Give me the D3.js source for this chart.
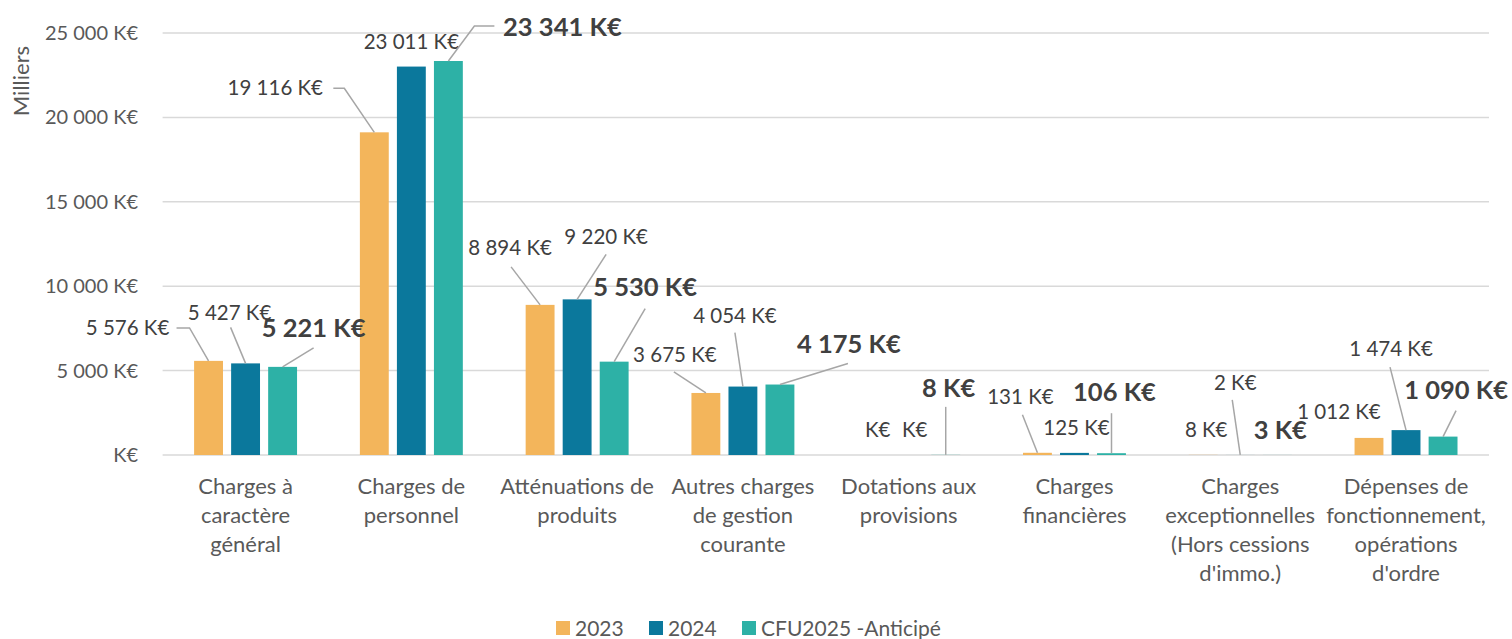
<html>
<head>
<title>Charges de fonctionnement</title>
<script src="https://d3js.org/d3.v7.min.js"></script>
<style>
body { margin: 0; background: white; }
text { font-family: Lato, "Open Sans", sans-serif; fill: #595959; }
.lbl { fill: #404040; }
</style>
</head>
<body>
<svg id="chart" width="1512" height="639"></svg>
<script>
// categories and series
var categories = [
  ["Charges à", "caractère", "général"],
  ["Charges de", "personnel"],
  ["Atténuations de", "produits"],
  ["Autres charges", "de gestion", "courante"],
  ["Dotations aux", "provisions"],
  ["Charges", "financières"],
  ["Charges", "exceptionnelles", "(Hors cessions", "d'immo.)"],
  ["Dépenses de", "fonctionnement,", "opérations", "d'ordre"]
];
var seriesNames = ["2023", "2024", "CFU2025 -Anticipé"];
var values2023 = [5576, 19116, 8894, 3675, 0, 131, 8, 1012];
var values2024 = [5427, 23011, 9220, 4054, 0, 125, 2, 1474];
var valuesCFU2025 = [5221, 23341, 5530, 4175, 8, 106, 3, 1090];
var yTicks = [0, 5000, 10000, 15000, 20000, 25000];

var colors = ["#F3B55B", "#0B789C", "#2DB1A6"];

// label placement (offset of label centre from bar top), and leader lines
var labelOffsets = [
  [[-81, -33], [-99, -44], [-30, -57], [-31, -38], [6, -25], [-17, -56], [3, -25], [-30, -26]],
  [[-16, -51], [0, -25], [29, -63], [-8, -71], [6, -25], [2, -25], [-5, -72], [-15, -81]],
  [[31, -39], [114, -34], [31, -75], [69, -40], [3, -67], [3, -61], [3, -25], [13, -47]]
];
var leaders = [
  [[[-32, -33], [-19, -33], [0, 0]], [[-41, -44], [-30, -44], [0, 0]], [[-29, -38], [0, 0]], [[-32, -21], [0, 0]], null, [[-15, -38], [0, 0]], null, null],
  [[[-15, -36], [0, 0]], null, [[29, -45], [0, 0]], [[-8, -54], [0, 0]], null, null, [[-8, -55], [0, 0]], [[-16, -63], [0, 0]]],
  [[[31, -19], [0, 0]], [[46, -35], [26, -35], [0, 0]], [[31, -53], [0, 0]], [[68, -21], [0, 0]], [[0, -48], [0, 0]], [[0, -40], [0, 0]], null, [[13, -26], [0, 0]]]
];

var series = [values2023, values2024, valuesCFU2025];

var loc = d3.formatLocale({decimal: ",", thousands: " ", grouping: [3], currency: ["", ""]});
var num = loc.format(",");
function fmt(v) { return v === 0 ? "K€" : num(v) + " K€"; }

var svg = d3.select("#chart");

var x = d3.scaleBand().domain(d3.range(categories.length)).range([162.6, 1489])
  .paddingInner(0.379).paddingOuter(0.19);
var xs = d3.scaleBand().domain(d3.range(series.length)).range([0, x.bandwidth()]).paddingInner(0.22);
var y = d3.scaleLinear().domain([0, 25000]).range([455, 33]);

// gridlines
svg.append("g").selectAll("line").data(yTicks).enter().append("line")
  .attr("x1", 162.6).attr("x2", 1489)
  .attr("y1", function (d) { return y(d); }).attr("y2", function (d) { return y(d); })
  .style("stroke", "#D9D9D9").style("stroke-width", 1.5);

// y axis
var yAxis = svg.append("g").attr("transform", "translate(150,0)")
  .call(d3.axisLeft(y).tickValues(yTicks).tickSize(0).tickPadding(12).tickFormat(fmt));
yAxis.select(".domain").remove();
yAxis.selectAll("text").style("font-family", "Lato, sans-serif").style("font-size", "20px").style("fill", "#595959");

svg.append("text")
  .attr("transform", "translate(29,81) rotate(-90)")
  .style("text-anchor", "middle").style("font-size", "22px")
  .text("Milliers");

// bars
series.forEach(function (vals, s) {
  svg.append("g").selectAll("rect").data(vals).enter().append("rect")
    .attr("x", function (d, i) { return x(i) + xs(s); })
    .attr("y", function (d) { return y(d); })
    .attr("width", xs.bandwidth())
    .attr("height", function (d) { return y(0) - y(d); })
    .attr("fill", colors[s]);
});

// leader lines + labels
series.forEach(function (vals, s) {
  vals.forEach(function (v, i) {
    var bx = x(i) + xs(s) + xs.bandwidth() / 2;
    var by = y(v);
    var ld = leaders[s][i];
    if (ld) {
      svg.append("polyline")
        .attr("points", ld.map(function (p) { return (bx + p[0]) + "," + (by + p[1]); }).join(" "))
        .style("fill", "none").style("stroke", "#A6A6A6").style("stroke-width", 1.5);
    }
    var off = labelOffsets[s][i];
    svg.append("text").attr("class", "lbl")
      .attr("x", bx + off[0]).attr("y", by + off[1])
      .attr("dy", "0.35em")
      .style("text-anchor", "middle")
      .style("font-size", s === 2 ? "25.5px" : "20.5px")
      .style("font-weight", s === 2 ? "bold" : "normal")
      .text(fmt(v));
  });
});

// category labels
categories.forEach(function (lines, i) {
  var t = svg.append("text")
    .attr("x", x(i) + x.bandwidth() / 2).attr("y", 494)
    .style("text-anchor", "middle").style("font-size", "22px");
  lines.forEach(function (l, k) {
    t.append("tspan").attr("x", x(i) + x.bandwidth() / 2).attr("dy", k === 0 ? 0 : 29).text(l);
  });
});

// legend
var legX = [556, 649, 742];
seriesNames.forEach(function (n, s) {
  svg.append("rect").attr("x", legX[s]).attr("y", 621).attr("width", 14).attr("height", 14).attr("fill", colors[s]);
  svg.append("text").attr("x", legX[s] + 19).attr("y", 636).style("font-size", "21px").text(n);
});
</script>
</body>
</html>
